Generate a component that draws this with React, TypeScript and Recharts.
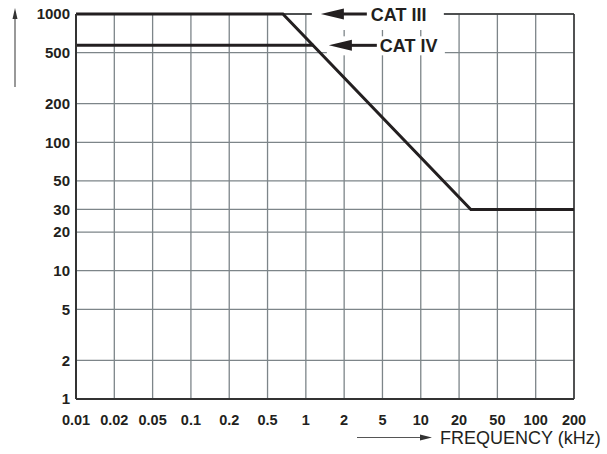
import React from "react";
import {
  LineChart,
  Line,
  XAxis,
  YAxis,
  CartesianGrid,
  ReferenceLine,
  ReferenceDot,
} from "recharts";

// x axis: 1-2-5 steps, drawn evenly spaced
const freqTicks = [0.01, 0.02, 0.05, 0.1, 0.2, 0.5, 1, 2, 5, 10, 20, 50, 100, 200];
const freqLabels = ["0.01", "0.02", "0.05", "0.1", "0.2", "0.5", "1", "2", "5", "10", "20", "50", "100", "200"];
const voltTicks = [1, 2, 5, 10, 20, 30, 50, 100, 200, 500, 1000];

// CAT III derating curve (kHz, V)
const catIIIFreq = [0.01, 0.66, 26.5, 200];
const catIIIVolts = [1000, 1000, 30, 30];

// CAT IV (kHz, V) - joins the CAT III slope
const catIVFreq = [0.01, 1.15];
const catIVVolts = [570, 570];

const FONT = "'Liberation Sans', Arial, Helvetica, sans-serif";
const INK = "#231f20";

// position on the evenly spaced 1-2-5 axis
const posOf = (f: number) => {
  for (let i = 0; i < freqTicks.length - 1; i++) {
    const a = freqTicks[i];
    const b = freqTicks[i + 1];
    if (f <= b) return i + Math.log(f / a) / Math.log(b / a);
  }
  return freqTicks.length - 1;
};

const toRows = (fs: number[], vs: number[]) => fs.map((f, i) => ({ x: posOf(f), v: vs[i] }));

const catIIIData = toRows(catIIIFreq, catIIIVolts);
const catIVData = toRows(catIVFreq, catIVVolts);

type LabelBox = {
  text: string;
  boxX: [number, number];
  boxY: [number, number];
  tip: number;
  headEnd: number;
  shaftEnd: number;
  textX: number;
};

const catLabel = (lb: LabelBox) => (props: any) => {
  const { cx, cy } = props;
  return (
    <g>
      <rect
        x={cx + lb.boxX[0]}
        y={cy + lb.boxY[0]}
        width={lb.boxX[1] - lb.boxX[0]}
        height={lb.boxY[1] - lb.boxY[0]}
        fill="#fff"
      />
      <polygon
        points={`${cx + lb.tip},${cy} ${cx + lb.headEnd},${cy - 5.5} ${cx + lb.headEnd},${cy + 5.5}`}
        fill={INK}
      />
      <line x1={cx + lb.headEnd - 1} x2={cx + lb.shaftEnd} y1={cy} y2={cy} stroke={INK} strokeWidth={3} />
      <text x={cx + lb.textX} y={cy + 6.5} fontFamily={FONT} fontSize={18} fontWeight="bold" fill={INK}>
        {lb.text}
      </text>
    </g>
  );
};

const App: React.FC = () => {
  return (
    <div style={{ position: "absolute", left: 0, top: 0, width: 607, height: 454, background: "#fff" }}>
      <LineChart width={607} height={454} margin={{ top: 14, right: 33, left: 0, bottom: 0 }}>
        <CartesianGrid stroke="#7d8589" strokeWidth={1.3} />
        <XAxis
          type="number"
          dataKey="x"
          domain={[0, freqTicks.length - 1]}
          ticks={freqTicks.map((_, i) => i)}
          tickFormatter={(i: number) => freqLabels[i]}
          height={55}
          tickLine={false}
          tickSize={0}
          tickMargin={16}
          axisLine={{ stroke: "#333", strokeWidth: 2 }}
          tick={{ fontFamily: FONT, fontSize: 14.5, fontWeight: "bold", fill: INK }}
          interval={0}
        />
        <YAxis
          type="number"
          scale="log"
          domain={[1, 1000]}
          ticks={voltTicks}
          width={76}
          tickLine={false}
          tickSize={0}
          tickMargin={6}
          axisLine={{ stroke: "#333", strokeWidth: 2 }}
          tick={{ fontFamily: FONT, fontSize: 15, fontWeight: "bold", fill: INK }}
          interval={0}
        />
        <ReferenceLine x={freqTicks.length - 1} stroke="#333" strokeWidth={1.5} />
        <ReferenceLine y={1000} stroke="#333" strokeWidth={1.5} />
        <Line
          data={catIVData}
          dataKey="v"
          stroke={INK}
          strokeWidth={3}
          dot={false}
          isAnimationActive={false}
          type="linear"
        />
        <Line
          data={catIIIData}
          dataKey="v"
          stroke={INK}
          strokeWidth={3}
          dot={false}
          isAnimationActive={false}
          type="linear"
        />
        <ReferenceDot
          x={posOf(1)}
          y={1000}
          r={0}
          ifOverflow="visible"
          shape={catLabel({
            text: "CAT III",
            boxX: [6, 138],
            boxY: [-14, 16],
            tip: 15,
            headEnd: 38,
            shaftEnd: 61,
            textX: 65,
          })}
        />
        <ReferenceDot
          x={posOf(1)}
          y={catIVVolts[0]}
          r={0}
          ifOverflow="visible"
          shape={catLabel({
            text: "CAT IV",
            boxX: [21, 139],
            boxY: [-9, 10],
            tip: 23,
            headEnd: 46,
            shaftEnd: 71,
            textX: 74,
          })}
        />
      </LineChart>
      <svg
        width={607}
        height={454}
        style={{ position: "absolute", left: 0, top: 0, pointerEvents: "none" }}
      >
        <line x1={15} x2={15} y1={18} y2={87} stroke="#555" strokeWidth={1.2} />
        <polygon points="15,8 12.5,19 17.5,19" fill="#333" />
        <line x1={357} x2={422} y1={437.5} y2={437.5} stroke="#555" strokeWidth={1.2} />
        <polygon points="432,437.5 420,434.5 420,440.5" fill="#333" />
        <text x={440} y={444} fontFamily={FONT} fontSize={18} fill={INK}>
          FREQUENCY (kHz)
        </text>
      </svg>
    </div>
  );
};

export default App;
